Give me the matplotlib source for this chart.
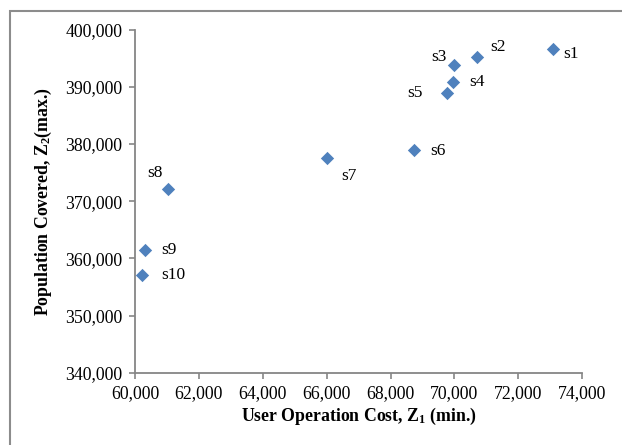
import matplotlib
matplotlib.use('Agg')
import matplotlib.pyplot as plt
from matplotlib.patches import Rectangle
from matplotlib.ticker import FuncFormatter

plt.rcParams['font.family'] = ['Liberation Serif', 'DejaVu Serif']
plt.rcParams['mathtext.fontset'] = 'custom'
plt.rcParams['mathtext.rm'] = 'Liberation Serif'
plt.rcParams['mathtext.bf'] = 'Liberation Serif:bold'

# solutions s1..s10
labels = ['s1', 's2', 's3', 's4', 's5', 's6', 's7', 's8', 's9', 's10']
cost = [73080, 70710, 70000, 69960, 69760, 68750, 66010, 61030, 60310, 60220]
population = [396600, 395250, 393800, 390800, 388900, 378900, 377550, 372100, 361450, 357000]

# label offsets in pixels (dx, dy)
offsets = [(10, -5), (13, 10), (-23, 8), (16, 0), (-39, 0), (16, -1), (14, -18), (-21, 16), (16, 0), (19, 0)]

fig = plt.figure(figsize=(6.22, 4.45), dpi=100)
ax = fig.add_axes([0.217, 0.1625, 0.719, 0.771])

ax.scatter(cost, population, marker='D', s=46, color='#4F81BD', zorder=3, linewidths=0)
for lab, x, y, off in zip(labels, cost, population, offsets):
    ax.annotate(lab, (x, y), xytext=off, textcoords='offset pixels', fontsize=12.5, va='center', ha='left')

ax.set_xlim(60000, 74000)
ax.set_ylim(340000, 400000)
ax.set_xticks(range(60000, 74001, 2000))
ax.set_yticks(range(340000, 400001, 10000))
fmt = FuncFormatter(lambda v, p: '{:,.0f}'.format(v))
ax.xaxis.set_major_formatter(fmt)
ax.yaxis.set_major_formatter(fmt)

for s in ['top', 'right']:
    ax.spines[s].set_visible(False)
for s in ['left', 'bottom']:
    ax.spines[s].set_color('#868686')
    ax.spines[s].set_linewidth(1.3)
ax.tick_params(direction='out', length=4, width=1.2, color='#868686', labelsize=12.8, pad=5)

ax.set_xlabel(r'User Operation Cost, $\mathbf{Z_1}$ (min.)', fontsize=12.8, fontweight='bold', labelpad=3)
ax.set_ylabel(r'Population Covered, $\mathbf{Z_2}$(max.)', fontsize=12.8, fontweight='bold', labelpad=8)

# chart area border (cut off at right and bottom)
fig.patches.append(Rectangle((10 / 622, -0.1), 1.2, (445 - 11) / 445 + 0.1,
                             transform=fig.transFigure, fill=False,
                             edgecolor='#8c8c8c', linewidth=1.5))

fig.savefig('out.png', dpi=100)
